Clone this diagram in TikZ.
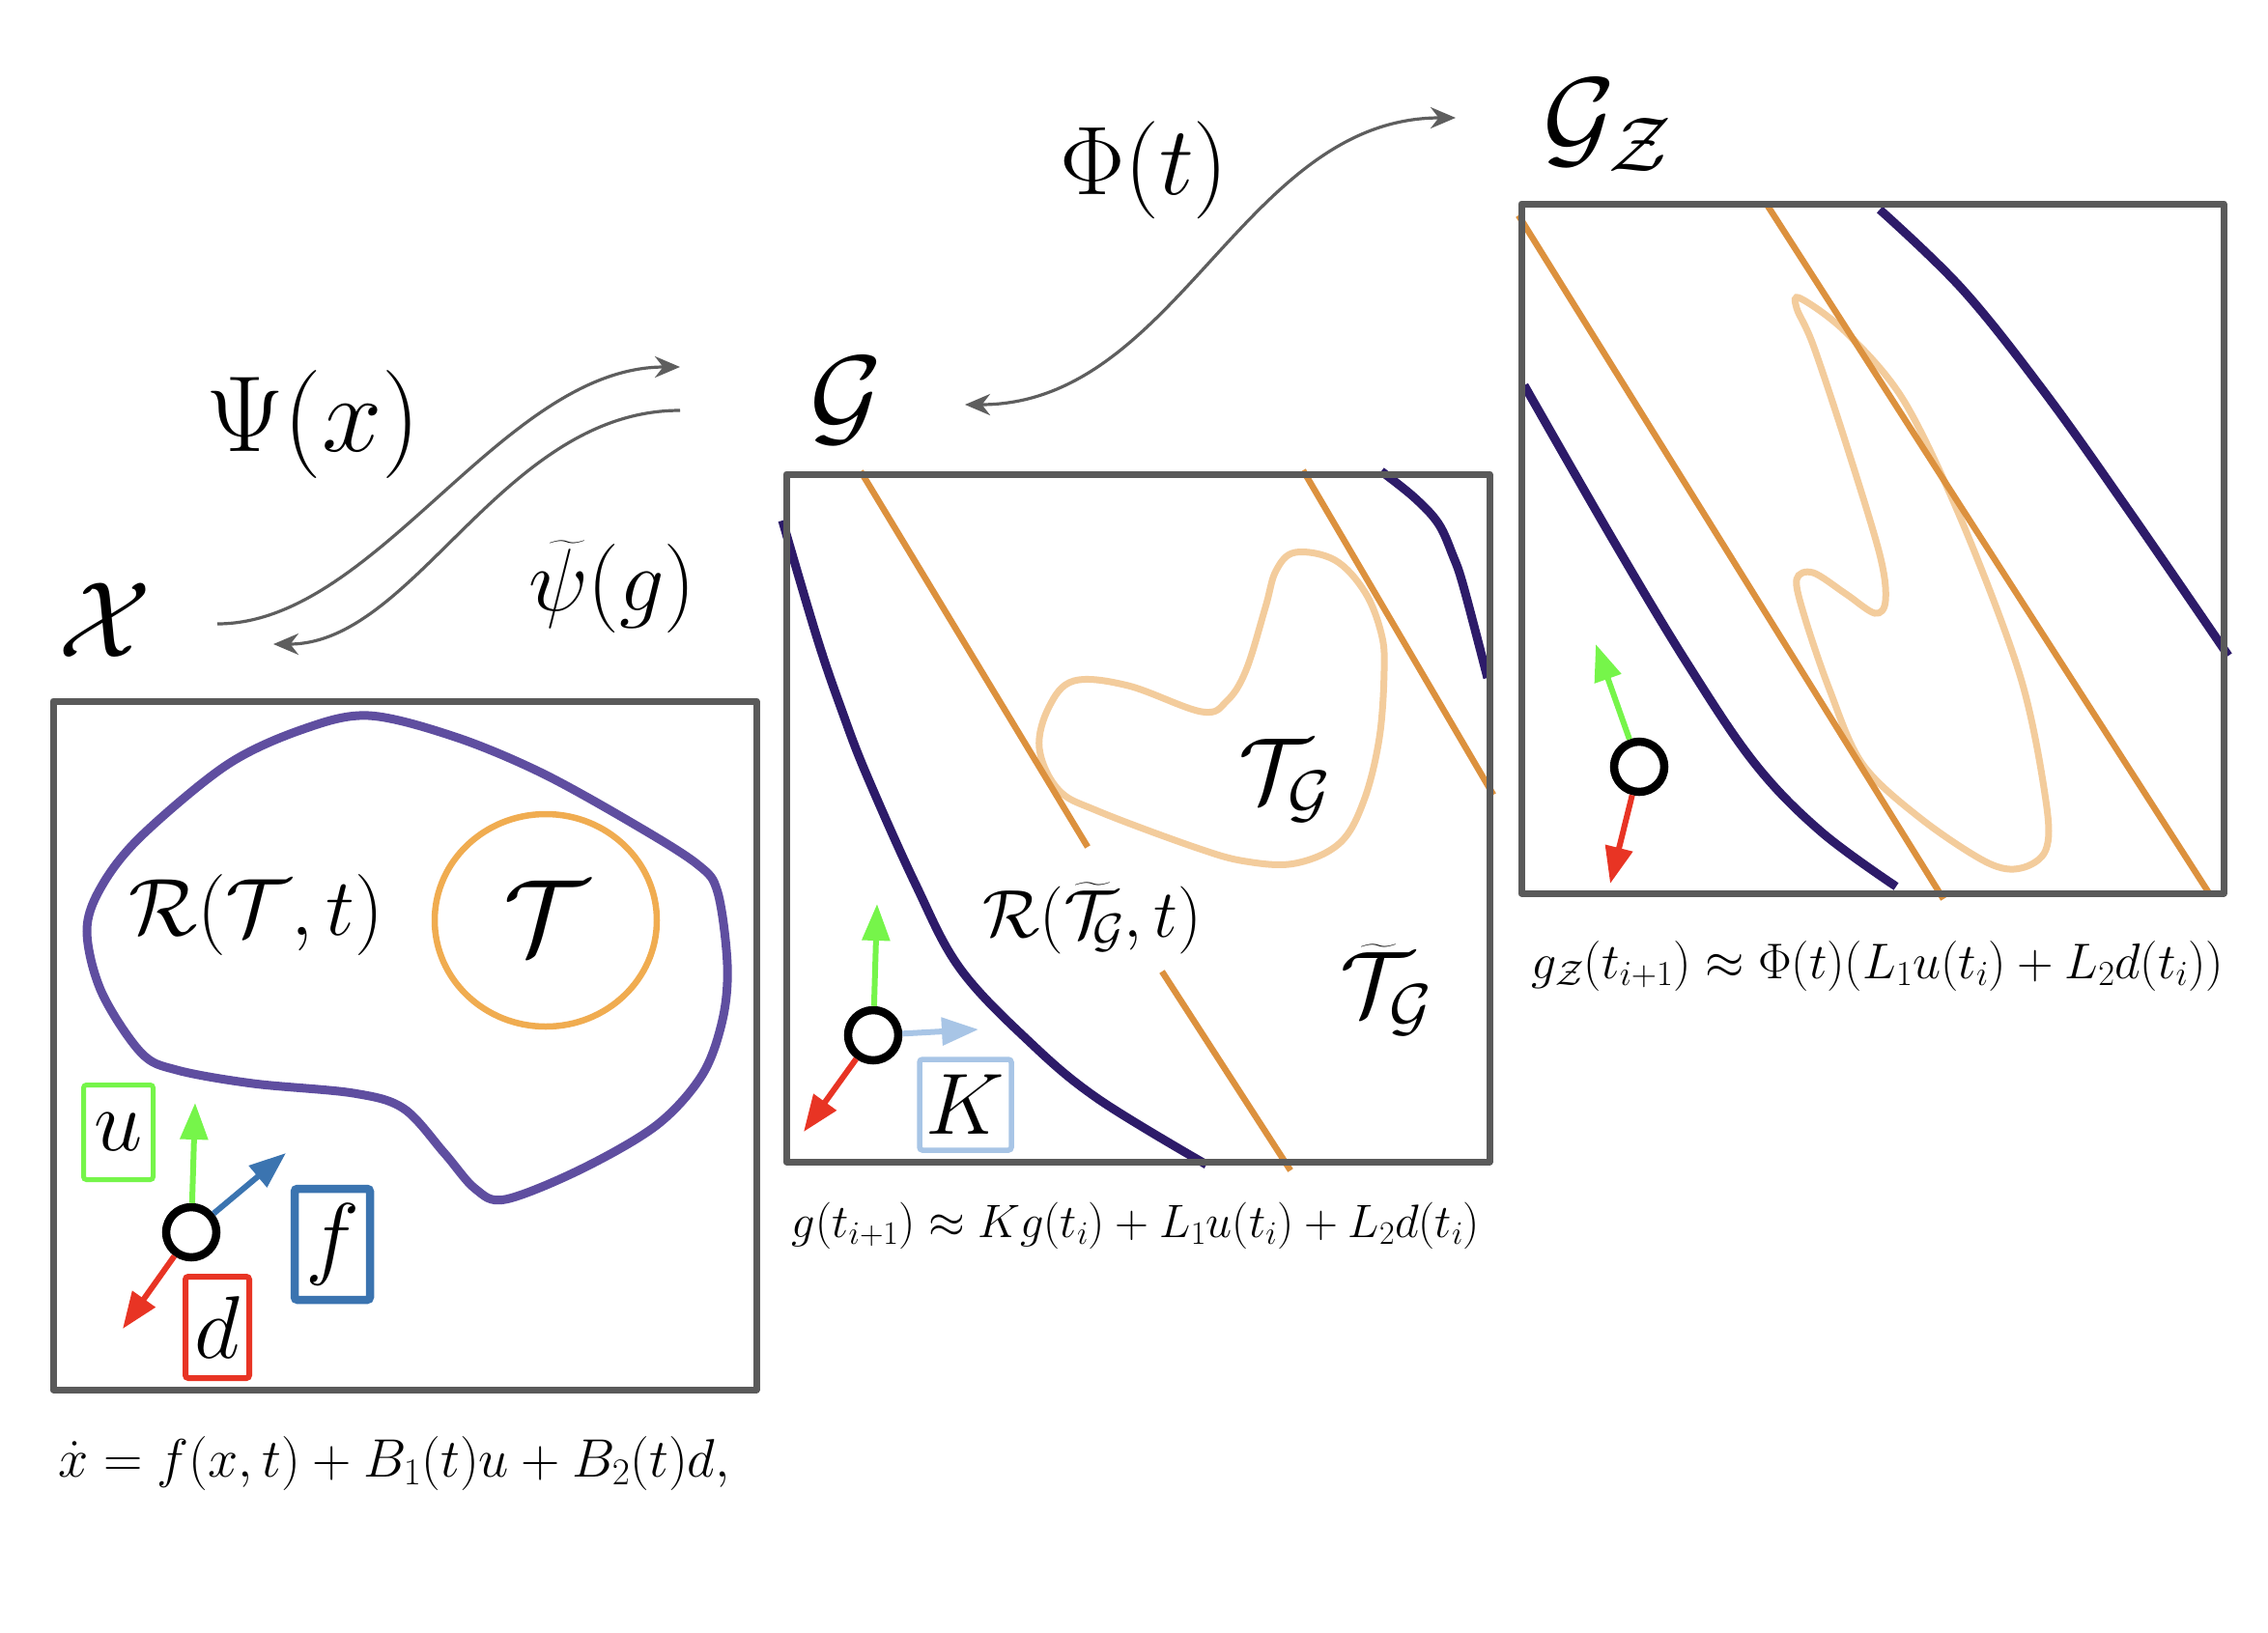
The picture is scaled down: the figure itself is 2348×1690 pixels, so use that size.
\documentclass[tikz,border=0pt]{standalone}
\usepackage{fix-cm}
\usepackage{amsmath}
\usetikzlibrary{arrows.meta}
\definecolor{boxgray}{HTML}{5A5A5A}
\definecolor{arrowgray}{HTML}{5E5E5E}
\definecolor{regpurple}{HTML}{5F4EA0}
\definecolor{tgtorange}{HTML}{F0AC50}
\definecolor{navy}{HTML}{2D1B69}
\definecolor{lineorange}{HTML}{DC913E}
\definecolor{paleorange}{HTML}{F3CC9C}
\definecolor{vgreen}{HTML}{76F54A}
\definecolor{vblue}{HTML}{3B74B0}
\definecolor{vred}{HTML}{E83424}
\definecolor{vlightblue}{HTML}{A8C5E6}
\newcommand{\setfs}[1]{\fontsize{#1}{#1}\selectfont}
\begin{document}
\begin{tikzpicture}[x=1pt,y=-1pt,
  lbl/.style={inner sep=0pt, outer sep=0pt},
  bigbox/.style={draw=boxgray, line width=7pt, line join=round, inner sep=0pt},
  maparrow/.style={draw=arrowgray, line width=3.2pt},
  vec/.style={line width=6pt, -{Triangle[length=38pt,width=28pt]}},
  statept/.style={circle, draw=black, fill=white, line width=8.5pt, minimum size=52pt, inner sep=0pt},
  ctrlbox/.style={draw, inner sep=0pt, rounded corners=3pt},
  regionline/.style={draw=regpurple, line width=9pt},
  navyline/.style={draw=navy, line width=9pt},
  orline/.style={draw=lineorange, line width=6.5pt},
  paleline/.style={draw=paleorange, line width=7pt},
]
\useasboundingbox (0,0) rectangle (2348,1690);
\fill[white] (0,0) rectangle (2348,1690);

% ---------------- Box X contents ----------------
\draw[regionline] plot[smooth cycle, tension=0.55] coordinates {
 (382,741) (471,763) (560,800) (654,852) (722,895) (743,924) (753,999)
 (748,1056) (727,1113) (680,1165) (601,1211) (523,1242) (492,1231)
 (460,1194) (418,1148) (366,1132) (262,1122) (183,1108) (146,1090)
 (105,1027) (90,964) (105,918) (146,866) (235,792) (314,755)};
\draw[draw=tgtorange, line width=6.5pt] (565,953) ellipse [x radius=115, y radius=110];

\node[lbl, anchor=base west] (RX) at (133,968) {\setfs{84}$\mathcal{R}(\mathcal{T},t)$};
\node[lbl] (TX) at (565,950) {\setfs{110}$\mathcal{T}$};

\node[ctrlbox, draw=vgreen, line width=5pt, minimum width=72pt, minimum height=98pt] (uX) at (122.5,1172.5) {\setfs{90}$u$};
\node[ctrlbox, draw=vblue, line width=8.5pt, minimum width=78pt, minimum height=115pt] (fX) at (344,1288.5) {\setfs{95}$f$};
\node[ctrlbox, draw=vred, line width=6pt, minimum width=66pt, minimum height=105pt] (dX) at (225,1374.5) {\setfs{92}$d$};

\node[statept] (cX) at (198,1276) {};
\coordinate (gX) at (202,1142);
\coordinate (bX) at (296,1194);
\coordinate (rX) at (127,1376);
\draw[vec, draw=vgreen, fill=vgreen] (cX) -- (gX);
\draw[vec, draw=vblue, fill=vblue] (cX) -- (bX);
\draw[vec, draw=vred, fill=vred] (cX) -- (rX);

\node[bigbox, minimum width=728pt, minimum height=713pt] (boxX) at (419,1082.5) {};
\node[lbl, anchor=base] (eqX) at (408,1529) {\setfs{56}$\dot{x} = f(x,t) + B_1(t)u + B_2(t)d,$};

% ---------------- Box G contents ----------------
\draw[navyline] plot[smooth, tension=0.6] coordinates {
 (810,539) (846,661) (872,737) (897,802) (948,916) (994,1003) (1066,1079) (1137,1138) (1249,1206)};
\draw[navyline] plot[smooth, tension=0.6] coordinates {
 (1430,488) (1464,515) (1489,542) (1504,575) (1515,607) (1540,702)};
\draw[paleline] plot[smooth cycle, tension=0.6] coordinates {
 (1341,572) (1382,580) (1413,613) (1430,656) (1433,694) (1428,764) (1412,829)
 (1387,873) (1341,894) (1290,892) (1239,878) (1137,840) (1096,818) (1076,775)
 (1086,732) (1112,705) (1168,710) (1244,737) (1270,726) (1290,694) (1310,629) (1321,591)};
\coordinate (oG1a) at (891,488); \coordinate (oG1b) at (1126,877);
\coordinate (oG2a) at (1349,487); \coordinate (oG2b) at (1546,823);
\coordinate (oG3a) at (1203,1006); \coordinate (oG3b) at (1336,1212);
\draw[orline] (oG1a) -- (oG1b);
\draw[orline] (oG2a) -- (oG2b);
\draw[orline] (oG3a) -- (oG3b);

\node[lbl] (TG) at (1330,808) {\setfs{95}$\mathcal{T}_{\mathcal{G}}$};
\node[lbl, anchor=base west] (RG) at (1017,970) {\setfs{70}$\mathcal{R}(\widetilde{\mathcal{T}}_{\!\mathcal{G}},t)$};
\node[lbl] (TtG) at (1435,1025) {\setfs{95}$\widetilde{\mathcal{T}}_{\mathcal{G}}$};

\node[ctrlbox, draw=vlightblue, line width=5.5pt, minimum width=95pt, minimum height=94pt] (KG) at (999.5,1144) {\setfs{90}$K$};
\node[statept] (cG) at (904,1072) {};
\coordinate (gG) at (908,936);
\coordinate (bG) at (1013,1066);
\coordinate (rG) at (832,1172);
\draw[vec, draw=vgreen, fill=vgreen] (cG) -- (gG);
\draw[vec, draw=vlightblue, fill=vlightblue] (cG) -- (bG);
\draw[vec, draw=vred, fill=vred] (cG) -- (rG);

\node[bigbox, minimum width=728pt, minimum height=712pt] (boxG) at (1178,847) {};
\node[lbl, anchor=base] (eqG) at (1176,1281) {\setfs{48.5}$g(t_{i+1}) \approx Kg(t_i) + L_1u(t_i) + L_2d(t_i)$};

% ---------------- Box GZ contents ----------------
\draw[navyline] plot[smooth, tension=0.6] coordinates {
 (1578,399) (1671,561) (1748,689) (1817,791) (1885,861) (1963,918)};
\draw[navyline] plot[smooth, tension=0.6] coordinates {
 (1946,217) (2032,300) (2118,408) (2204,529) (2307,679)};
\draw[paleline] plot[smooth cycle, tension=0.55] coordinates {
 (1864,309) (1911,344) (1971,415) (2032,542) (2092,702) (2118,829) (2118,880)
 (2092,899) (2057,893) (1989,848) (1928,791) (1894,714) (1868,638) (1860,600)
 (1877,593) (1911,615) (1941,635) (1952,622) (1946,574) (1911,459) (1877,357) (1860,319)};
\coordinate (oZ1a) at (1572,223); \coordinate (oZ1b) at (2012,931);
\coordinate (oZ2a) at (1828,210); \coordinate (oZ2b) at (2287,925);
\draw[orline] (oZ1a) -- (oZ1b);
\draw[orline] (oZ2a) -- (oZ2b);

\node[statept] (cZ) at (1697,794) {};
\coordinate (gZ) at (1652,667);
\coordinate (rZ) at (1667,915);
\draw[vec, draw=vgreen, fill=vgreen] (cZ) -- (gZ);
\draw[vec, draw=vred, fill=vred] (cZ) -- (rZ);

\node[bigbox, minimum width=727pt, minimum height=714pt] (boxZ) at (1938.5,568) {};
\node[lbl, anchor=base] (eqZ) at (1944,1013) {\setfs{52}$g_{\mathcal{Z}}(t_{i+1}) \approx \Phi(t)(L_1u(t_i) + L_2d(t_i))$};

% ---------------- Space labels and maps ----------------
\node[lbl, anchor=base west] (labX) at (60,680) {\setfs{112}$\mathcal{X}$};
\node[lbl, anchor=base west] (labG) at (838,448) {\setfs{115}$\mathcal{G}$};
\node[lbl, anchor=base west] (labZ) at (1597,160) {\setfs{115}$\mathcal{G}_{\mathcal{Z}}$};
\node[lbl, anchor=base west] (labPsi) at (213,467) {\setfs{112}$\Psi(x)$};
\node[lbl, anchor=base west] (labpsi) at (547,632) {\setfs{92}$\widetilde{\psi}(g)$};
\node[lbl, anchor=base west] (labPhi) at (1097,201) {\setfs{101}$\Phi(t)$};

\coordinate (psiA) at (225,646);
\coordinate (psiB) at (704,380);
\coordinate (ipsiA) at (704,425);
\coordinate (ipsiB) at (283,667);
\coordinate (phiA) at (999,419);
\coordinate (phiB) at (1507,122);
\draw[maparrow, -{Stealth[length=26pt,width=22pt]}] (psiA) .. controls (390,646) and (520,380) .. (psiB);
\draw[maparrow, -{Stealth[length=26pt,width=22pt]}] (ipsiA) .. controls (520,425) and (430,667) .. (ipsiB);
\draw[maparrow, {Stealth[length=26pt,width=22pt]}-{Stealth[length=26pt,width=22pt]}] (phiA) .. controls (1219,419) and (1287,122) .. (phiB);
\end{tikzpicture}
\end{document}
